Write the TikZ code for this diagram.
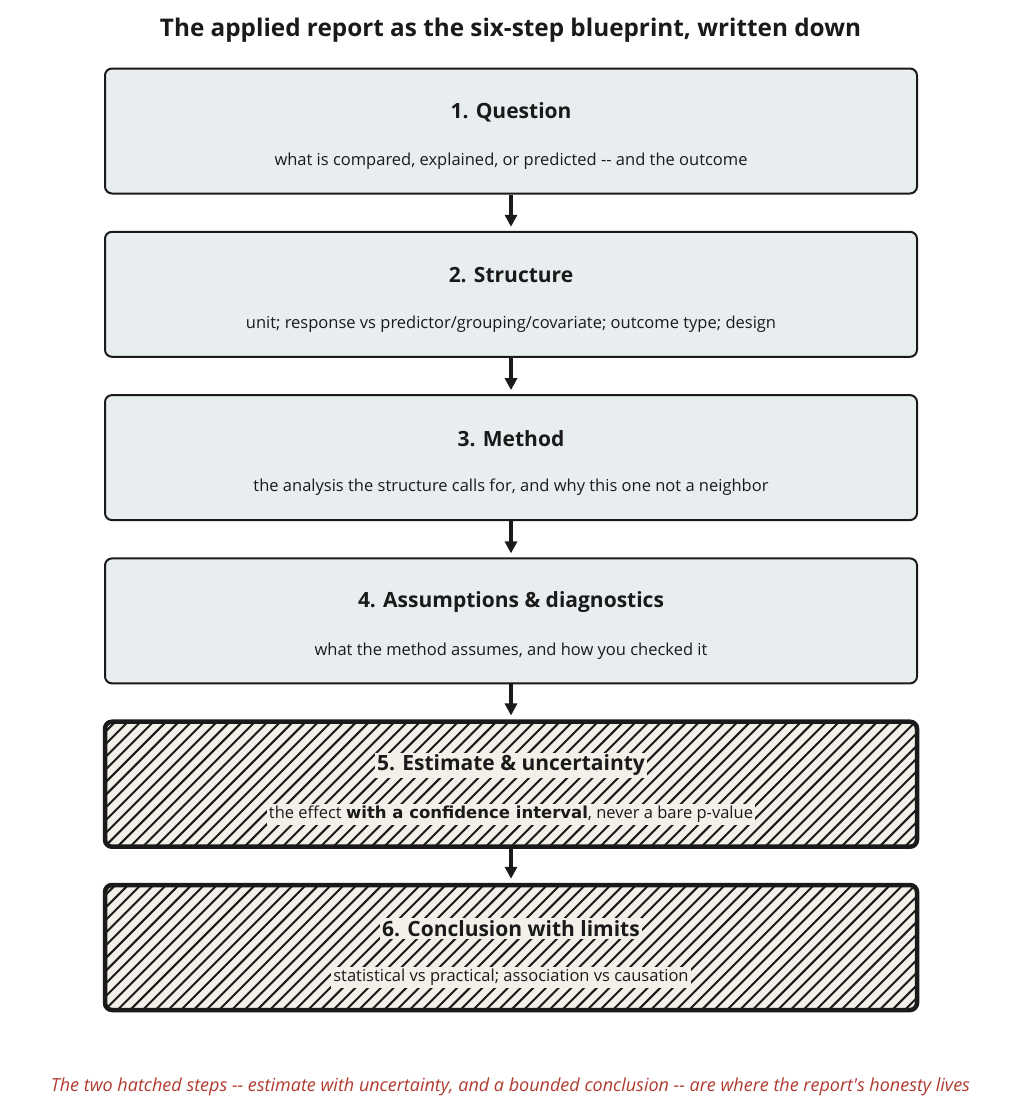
\documentclass[tikz,border=0pt]{standalone}
\usepackage{fontspec}
\setmainfont{Open Sans}[Ligatures=TeXOff]
\newfontfamily\djbold{DejaVu Sans}
\usetikzlibrary{arrows.meta}
\definecolor{ink}{HTML}{1A1A1A}
\definecolor{boxfill}{HTML}{E8EDEF}
\definecolor{hatchfill}{HTML}{F3EFE9}
\definecolor{footred}{HTML}{B03A2E}
\tikzset{
  stepbox/.style={draw=ink, line width=2pt, rounded corners=7pt, fill=boxfill,
    minimum width=812pt, minimum height=125pt, inner sep=0pt},
  hatchbox/.style={stepbox, line width=4.5pt, fill=hatchfill,
    path picture={\foreach \k in {0,...,80}{\draw[ink, line width=2pt]
      ([xshift=\k*12.7pt-140pt]path picture bounding box.south west) -- ++(150pt,150pt);}}},
  steptitle/.style={font=\fontsize{21}{24}\selectfont\bfseries, text=ink, inner sep=2pt},
  stepsub/.style={font=\fontsize{16.5}{19}\selectfont, text=ink, inner sep=2pt},
  hsub/.style={stepsub, fill=hatchfill},
  htitle/.style={steptitle, fill=hatchfill},
  flowarrow/.style={draw=ink, line width=3.5pt, -{Triangle[length=12pt,width=12pt]}, shorten >=4pt},
}
\begin{document}
\begin{tikzpicture}[x=1pt,y=-1pt]
\useasboundingbox (0,0) rectangle (1021,1114);
\node[font=\fontsize{24.3}{28}\selectfont\bfseries, text=ink] (title) at (510.5,30) {The applied report as the six-step blueprint, written down};
\node[stepbox] (b1) at (511,131) {};
\node[stepbox] (b2) at (511,294.3) {};
\node[stepbox] (b3) at (511,457.6) {};
\node[stepbox] (b4) at (511,620.9) {};
\node[hatchbox] (b5) at (511,784.2) {};
\node[hatchbox] (b6) at (511,947.5) {};
\node[steptitle] (t1) at (511,112) {1. Question};
\node[stepsub] (s1) at (511,161) {what is compared, explained, or predicted -- and the outcome};
\node[steptitle] (t2) at (511,275.3) {2. Structure};
\node[stepsub] (s2) at (511,324.3) {unit; response vs predictor/grouping/covariate; outcome type; design};
\node[steptitle] (t3) at (511,438.6) {3. Method};
\node[stepsub] (s3) at (511,487.6) {the analysis the structure calls for, and why this one not a neighbor};
\node[steptitle] (t4) at (511,601.9) {4. Assumptions \& diagnostics};
\node[stepsub] (s4) at (511,650.9) {what the method assumes, and how you checked it};
\node[htitle] (t5) at (511,765.2) {5. Estimate \& uncertainty};
\node[hsub] (s5) at (511,814.2) {the effect {\djbold\bfseries\fontsize{16.5}{19}\selectfont with a confidence interval}, never a bare p-value};
\node[htitle] (t6) at (511,928.5) {6. Conclusion with limits};
\node[hsub] (s6) at (511,977.5) {statistical vs practical; association vs causation};
\draw[flowarrow] (b1) -- (b2);
\draw[flowarrow] (b2) -- (b3);
\draw[flowarrow] (b3) -- (b4);
\draw[flowarrow] (b4) -- (b5);
\draw[flowarrow] (b5) -- (b6);
\node[font=\fontsize{18}{21}\selectfont\itshape, text=footred] (foot) at (510.5,1087) {The two hatched steps -- estimate with uncertainty, and a bounded conclusion -- are where the report's honesty lives};
\end{tikzpicture}
\end{document}
